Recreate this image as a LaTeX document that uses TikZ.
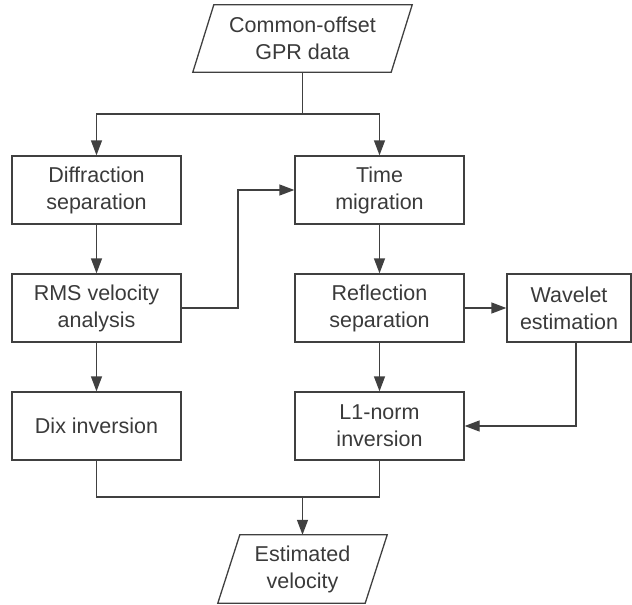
\documentclass[tikz,border=0pt]{standalone}
\usepackage{fontspec}
\setmainfont{Liberation Sans}
\usetikzlibrary{arrows.meta,calc}
\definecolor{linec}{HTML}{404040}
\definecolor{textc}{HTML}{3A3A3A}
\begin{document}
\begin{tikzpicture}[x=1pt,y=-1pt,
  every node/.style={font=\fontsize{21.5pt}{27pt}\selectfont, text=textc},
  stepbox/.style={draw=linec, line width=1.3pt, minimum width=169pt, minimum height=68pt, inner sep=0pt, align=center},
  wavebox/.style={stepbox, minimum width=124pt},
  iobox/.style={minimum height=68pt, inner sep=0pt, align=center},
  conn/.style={draw=linec, line width=1.3pt},
  arr/.style={conn, -{Triangle[length=15pt,width=11pt]}}
]
\useasboundingbox (0,0) rectangle (632,605);

% input / output parallelograms
\node[iobox, minimum width=198pt, minimum height=67pt] (src) at (302.5,38.5) {Common-offset\\GPR data};
\draw[conn] ($(src.south west)+(-10.5,0)$) -- ($(src.south east)+(-10.5,0)$) -- ($(src.north east)+(10.5,0)$) -- ($(src.north west)+(10.5,0)$) -- cycle;

\node[iobox, minimum width=147pt] (est) at (302.5,569) {Estimated\\velocity};
\draw[conn] ($(est.south west)+(-11,0)$) -- ($(est.south east)+(-11,0)$) -- ($(est.north east)+(11,0)$) -- ($(est.north west)+(11,0)$) -- cycle;

% process boxes
\node[stepbox] (diff) at (96.5,190) {Diffraction\\separation};
\node[stepbox] (rms)  at (96.5,308) {RMS velocity\\analysis};
\node[stepbox] (dix)  at (96.5,426) {Dix inversion};
\node[stepbox] (time) at (379.5,190) {Time\\migration};
\node[stepbox] (refl) at (379.5,308) {Reflection\\separation};
\node[stepbox] (lone) at (379.5,426) {L1-norm\\inversion};
\node[wavebox] (wave) at (569,308) {Wavelet\\estimation};

% connectors
\coordinate (split) at (302.5,114);
\draw[conn] (src.south) -- (split);
\draw[arr] (split) -| (diff.north);
\draw[arr] (split) -| (time.north);

\draw[arr] (diff) -- (rms);
\draw[arr] (rms) -- (dix);
\draw[arr] (time) -- (refl);
\draw[arr] (refl) -- (lone);
\draw[arr] (refl) -- (wave);

\coordinate (bend) at (238,308);
\draw[arr] (rms.east) -- (bend) |- (time.west);

\draw[arr] ([xshift=7pt]wave.south) |- (lone.east);

\coordinate (join) at (302.5,497);
\draw[conn] (dix.south) |- (join);
\draw[conn] (lone.south) |- (join);
\draw[arr] (join) -- (est.north);
\end{tikzpicture}
\end{document}
